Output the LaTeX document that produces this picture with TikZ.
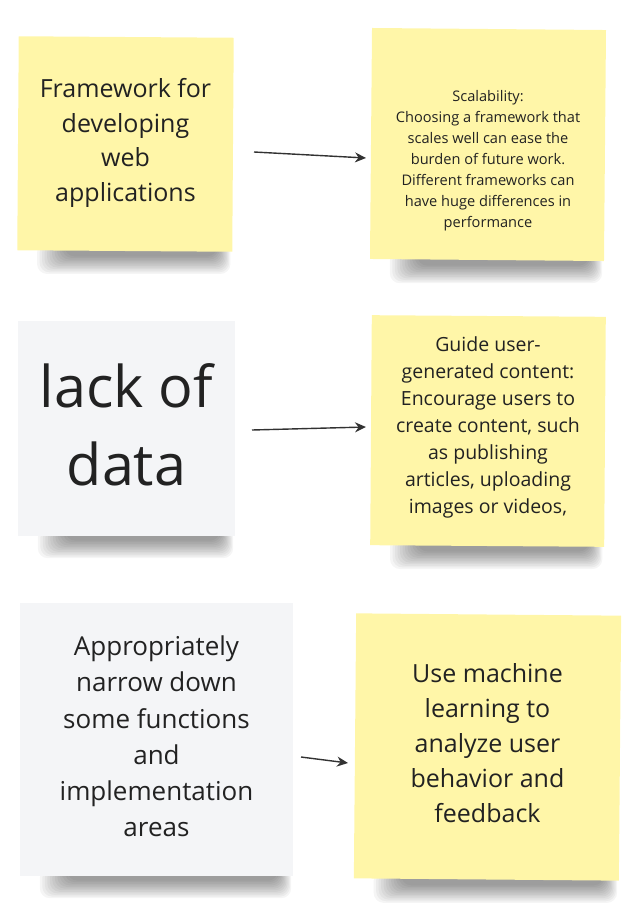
\documentclass[tikz,border=0pt]{standalone}
\usepackage{fontspec}
\setmainfont{Open Sans}
\usepackage{xcolor}
\usepackage{tikz}
\usetikzlibrary{positioning, arrows.meta, calc, backgrounds}
\definecolor{ink}{RGB}{34,34,34}
\definecolor{lemon}{RGB}{255,246,168}
\definecolor{paper}{RGB}{244,245,247}
\definecolor{wire}{RGB}{50,50,50}

\newcommand{\noteshadow}[1]{%
  \foreach \i in {0,...,11}
    \fill[black, opacity=0.04, rounded corners=10pt]
      ($(#1.south west)+(20+2.5*\i,-8)$) rectangle ($(#1.south east)+(-2-1.2*\i,22-1.6*\i)$);}

\begin{document}
\begin{tikzpicture}[
  x=1pt, y=-1pt,
  note/.style={inner sep=0pt, text=ink, align=center},
  lemonnote/.style={note, fill=lemon},
  papernote/.style={note, fill=paper},
  link/.style={-{Stealth[length=11pt, width=10pt]}, draw=wire, line width=1.4pt}]
  \useasboundingbox (0,0) rectangle (628,905);
  % note shapes
  \node[lemonnote, minimum width=215pt, minimum height=214pt, rotate=-0.4] (frame) at (125.5,144) {};
  \node[lemonnote, minimum width=234pt, minimum height=231pt, rotate=-0.5] (scale) at (488,144.5) {};
  \node[papernote, minimum width=217pt, minimum height=215pt] (lack) at (126.5,428.5) {};
  \node[lemonnote, minimum width=234pt, minimum height=230pt, rotate=-0.4] (guide) at (488,431) {};
  \node[papernote, minimum width=273pt, minimum height=273pt] (narrow) at (156.5,739.5) {};
  \node[lemonnote, minimum width=265pt, minimum height=265pt, rotate=-0.5] (learn) at (487.5,747) {};
  % shadows under the notes
  \begin{scope}[on background layer]
    \noteshadow{frame}
    \noteshadow{scale}
    \noteshadow{lack}
    \noteshadow{guide}
    \noteshadow{narrow}
    \noteshadow{learn}
  \end{scope}
  % texts
  \node[note, font=\fontsize{25}{34.5}\selectfont] (frame-t) at ($(frame.center)+(0,-1)$) {Framework for\\developing\\web\\applications};
  \node[note, font=\fontsize{14.6}{21}\selectfont] (scale-t) at ($(scale.center)+(0,16)$)
    {Scalability:\\Choosing a framework that\\scales well can ease the\\burden of future work.\\Different frameworks can\\have huge differences in\\performance};
  \node[note, font=\fontsize{57.5}{78}\selectfont] (lack-t) at ($(lack.center)+(0,-4)$) {lack of\\data};
  \node[note, font=\fontsize{19.5}{27}\selectfont] (guide-t) at ($(guide.center)+(0,-4)$)
    {Guide user-\\generated content:\\Encourage users to\\create content, such\\as publishing\\articles, uploading\\images or videos,};
  \node[note, font=\fontsize{26}{36.2}\selectfont] (narrow-t) at ($(narrow.center)+(0,-3)$)
    {Appropriately\\narrow down\\some functions\\and\\implementation\\areas};
  \node[note, font=\fontsize{25}{35}\selectfont] (learn-t) at ($(learn.center)+(0,-4)$)
    {Use machine\\learning to\\analyze user\\behavior and\\feedback};
  % arrows
  \coordinate (frame-out) at (254,152);
  \coordinate (scale-in) at (366,158);
  \coordinate (lack-out) at (252,430);
  \coordinate (guide-in) at (366,427);
  \coordinate (narrow-out) at (301,757);
  \coordinate (learn-in) at (348,763);
  \draw[link] (frame-out) -- (scale-in);
  \draw[link] (lack-out) -- (guide-in);
  \draw[link] (narrow-out) -- (learn-in);
\end{tikzpicture}
\end{document}
